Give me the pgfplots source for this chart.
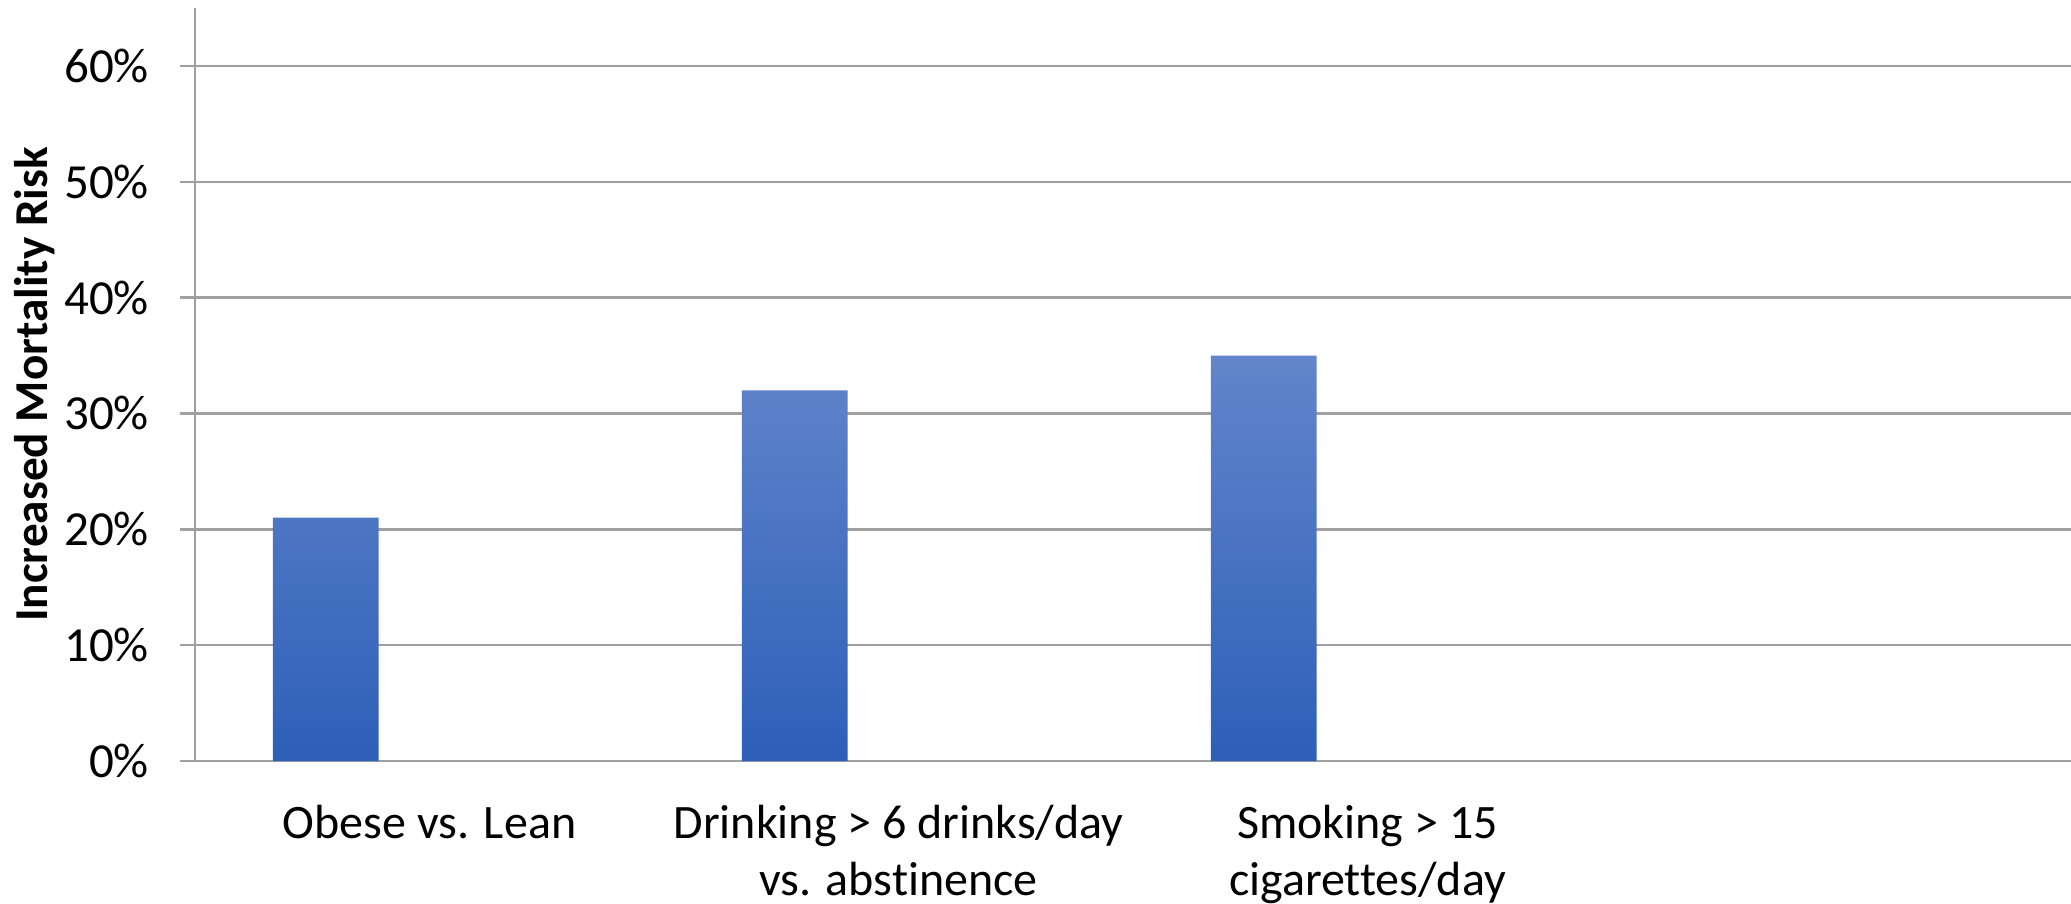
\documentclass[border=0pt]{standalone}
\usepackage{fontspec}
\setmainfont{Carlito}[Ligatures={TeX,NoCommon}]
\usepackage{pgfplots}
\pgfplotsset{compat=1.18}
\definecolor{gridgray}{RGB}{160,160,160}
\definecolor{bartop}{RGB}{98,133,203}
\definecolor{barbot}{RGB}{45,95,184}
\begin{document}
\begin{tikzpicture}
\useasboundingbox (-97.5pt,-71.5pt) rectangle (938pt,380.5pt);
\begin{axis}[
  at={(0pt,0pt)}, anchor=south west,
  scale only axis,
  width=938pt, height=376.5pt,
  xmin=0, xmax=4, ymin=0, ymax=65,
  axis x line*=bottom, axis y line*=left,
  axis line style={gridgray, line width=1.2pt, -},
  xtick={0.5,1.5,2.5},
  xticklabels={{Obese vs. Lean},{Drinking > 6 drinks/day\\vs. abstinence},{Smoking > 15\\cigarettes/day}},
  xtick style={draw=none},
  xticklabel style={font=\fontsize{24}{28.5}\selectfont, align=center, anchor=north, yshift=-11pt},
  ytick={0,10,...,60},
  yticklabel={\pgfmathprintnumber{\tick}\%},
  /pgf/number format/assume math mode=true,
  yticklabel style={font=\fontsize{24.5}{28}\selectfont, xshift=-12pt},
  tick align=outside,
  major tick length=7.5pt,
  ytick style={gridgray, line width=1.2pt},
  ymajorgrids,
  grid style={gridgray, line width=1.2pt},
  every axis y label/.style={at={(axis description cs:-0.0853,0.5)}, rotate=90, anchor=center},
  ylabel={\textbf{Increased Mortality Risk}},
  ylabel style={font=\fontsize{23.6}{28}\selectfont},
  clip=false,
]
\addplot[ybar, bar width=0.2255, bar shift=0pt, draw=none, top color=bartop, bottom color=barbot]
  coordinates {(0.279,21) (1.279,32) (2.279,35)};
\end{axis}
\end{tikzpicture}
\end{document}
